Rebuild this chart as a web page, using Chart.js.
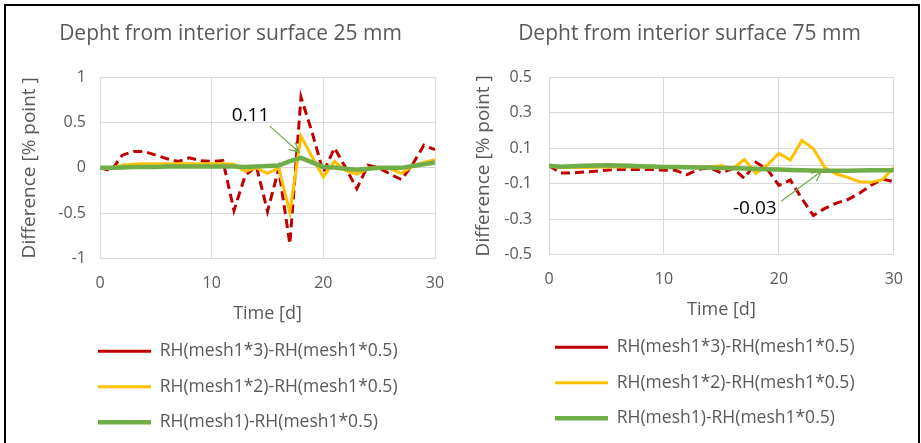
<!DOCTYPE html>
<html>
<head>
<meta charset="utf-8">
<script src="https://cdn.jsdelivr.net/npm/chart.js@4.4.1/dist/chart.umd.min.js"></script>
<style>
  html, body { margin: 0; padding: 0; background: #fff; overflow: hidden; }
  #frame { position: absolute; left: 4px; top: 4px; width: 912px; height: 460px; border: 2px solid #000; border-bottom: none; pointer-events: none; z-index: 2; }
  #left { position: absolute; left: 6px; top: 6px; }
  #right { position: absolute; left: 460px; top: 6px; }
</style>
</head>
<body>
<canvas id="left" width="454" height="435"></canvas>
<canvas id="right" width="458" height="431"></canvas>
<div id="frame"></div>
<script>
// Time [d]
const days = [0, 1, 2, 3, 4, 5, 6, 7, 8, 9, 10, 11, 12, 13, 14, 15, 16, 17, 18, 19, 20, 21, 22, 23, 24, 25, 26, 27, 28, 29, 30];
const xTicks = [0, 10, 20, 30];

const seriesNames = [
    'RH(mesh1*3)-RH(mesh1*0.5)',
    'RH(mesh1*2)-RH(mesh1*0.5)',
    'RH(mesh1)-RH(mesh1*0.5)',
];

// Depth 25 mm
const red25 = [0, -0.03, 0.14, 0.18, 0.18, 0.14, 0.1, 0.07, 0.11, 0.08, 0.07, 0.08, -0.47, -0.085, 0.02, -0.48, -0.01, -0.84, 0.78, 0.39, -0.05, 0.22, 0.0, -0.23, 0.03, 0.0, -0.07, -0.13, 0.04, 0.25, 0.2];
const yellow25 = [0, 0, 0.03, 0.04, 0.045, 0.045, 0.045, 0.045, 0.045, 0.045, 0.045, 0.045, 0.04, -0.04, 0.0, -0.06, 0.0, -0.49, 0.35, 0.12, -0.1, 0.07, -0.03, -0.07, -0.01, 0.0, -0.01, -0.06, 0.02, 0.06, 0.09];
const green25 = [0, 0, 0.005, 0.01, 0.01, 0.01, 0.015, 0.015, 0.015, 0.015, 0.015, 0.015, 0.015, 0.01, 0.015, 0.02, 0.025, 0.075, 0.11, 0.06, 0.01, 0.005, -0.01, -0.02, -0.01, 0, 0, 0, 0.02, 0.04, 0.06];
const yTicks25 = [-1, -0.5, 0, 0.5, 1];

// Depth 75 mm
const red75 = [0, -0.04, -0.04, -0.035, -0.03, -0.025, -0.02, -0.02, -0.02, -0.02, -0.025, -0.025, -0.05, -0.02, -0.01, -0.04, -0.015, -0.07, 0.02, -0.02, -0.11, -0.08, -0.185, -0.28, -0.24, -0.21, -0.19, -0.155, -0.11, -0.075, -0.09];
const yellow75 = [0, -0.01, -0.01, -0.01, -0.008, -0.006, -0.006, -0.006, -0.006, -0.006, -0.006, -0.006, -0.006, -0.006, -0.005, 0.0, -0.015, 0.037, -0.043, 0.005, 0.07, 0.033, 0.143, 0.096, -0.01, -0.046, -0.065, -0.09, -0.093, -0.078, -0.01];
const green75 = [0, -0.005, -0.002, 0, 0.002, 0.003, 0.002, 0, -0.002, -0.004, -0.006, -0.007, -0.008, -0.009, -0.01, -0.012, -0.013, -0.015, -0.017, -0.019, -0.021, -0.023, -0.025, -0.026, -0.027, -0.027, -0.027, -0.026, -0.025, -0.025, -0.025];
const yTicks75 = [-0.5, -0.3, -0.1, 0, 0.1, 0.3, 0.5]; // 0 only as axis line

Chart.defaults.font.family = "'Open Sans', sans-serif";
Chart.defaults.color = '#595959';

// callout text + arrow, positioned in data units
const calloutPlugin = {
    id: 'callout',
    afterDatasetsDraw(chart, args, opts) {
        const {ctx, scales: {x, y}} = chart;
        const px = v => x.getPixelForValue(v);
        const py = v => y.getPixelForValue(v);
        const x0 = px(opts.from[0]), y0 = py(opts.from[1]);
        const x1 = px(opts.to[0]), y1 = py(opts.to[1]);
        ctx.save();
        ctx.strokeStyle = '#70AD47';
        ctx.lineWidth = 1.2;
        ctx.beginPath();
        ctx.moveTo(x0, y0);
        ctx.lineTo(x1, y1);
        const a = Math.atan2(y1 - y0, x1 - x0);
        const head = 11;
        ctx.moveTo(x1 - head * Math.cos(a - 0.45), y1 - head * Math.sin(a - 0.45));
        ctx.lineTo(x1, y1);
        ctx.lineTo(x1 - head * Math.cos(a + 0.45), y1 - head * Math.sin(a + 0.45));
        ctx.stroke();
        ctx.fillStyle = '#000000';
        ctx.font = "19px 'Open Sans', sans-serif";
        ctx.textBaseline = 'middle';
        ctx.textAlign = 'left';
        ctx.fillText(opts.text, px(opts.at[0]), py(opts.at[1]));
        ctx.restore();
    }
};

// legend rows start under the plot; title nudged like the Excel original
const boxShift = {
    id: 'boxShift',
    afterLayout(chart, args, opts) {
        chart.legend.left = opts.legendX - chart.options.plugins.legend.labels.padding;
        chart.titleBlock.left += opts.titleDx;
        chart.titleBlock.right += opts.titleDx;
    }
};

function makeDatasets(red, yellow, green) {
    const pts = arr => days.map((d, i) => ({x: d, y: arr[i]}));
    return [{
        label: seriesNames[0],
        data: pts(red),
        borderColor: '#C00000',
        backgroundColor: '#C00000',
        borderWidth: 3,
        borderDash: [9, 5],
        order: 3
    }, {
        label: seriesNames[1],
        data: pts(yellow),
        borderColor: '#FFC000',
        backgroundColor: '#FFC000',
        borderWidth: 3,
        order: 2
    }, {
        label: seriesNames[2],
        data: pts(green),
        borderColor: '#70AD47',
        backgroundColor: '#70AD47',
        borderWidth: 4.5,
        order: 1
    }];
}

function makeOptions(title, yTicks, axisWidth, tickPad, padRight, shift, callout) {
    return {
        responsive: false,
        animation: false,
        elements: { point: { radius: 0 }, line: { tension: 0, fill: false } },
        layout: { padding: { left: 0, right: padRight, top: 0, bottom: 0 } },
        scales: {
            x: {
                type: 'linear',
                min: 0,
                max: 30,
                afterBuildTicks: s => { s.ticks = xTicks.map(v => ({value: v})); },
                afterFit: s => { s.height = 66; },
                grid: { color: '#D9D9D9', drawTicks: false },
                border: { display: false },
                ticks: { padding: 15, font: { size: 16 }, callback: v => String(v) },
                title: { display: true, text: 'Time [d]', font: { size: 18 }, padding: 0 }
            },
            y: {
                min: yTicks[0],
                max: yTicks[yTicks.length - 1],
                afterBuildTicks: s => { s.ticks = yTicks.map(v => ({value: v})); },
                afterFit: s => { s.width = axisWidth; },
                grid: { color: '#D9D9D9', drawTicks: false },
                border: { display: false },
                ticks: {
                    padding: tickPad,
                    font: { size: 16 },
                    callback: v => (v === 0 && yTicks.length === 7) ? '' : String(v)
                },
                title: { display: true, text: 'Difference [% point ]', font: { size: 19 }, padding: { top: 12, bottom: 0 } }
            }
        },
        plugins: {
            title: {
                display: true,
                text: title,
                font: { size: 21, weight: 'normal' },
                padding: { top: 15, bottom: 31 }
            },
            legend: {
                position: 'bottom',
                align: 'start',
                labels: {
                    usePointStyle: true,
                    pointStyle: 'line',
                    pointStyleWidth: 53,
                    font: { size: 17.5 },
                    padding: 18,
                    sort: (a, b) => a.datasetIndex - b.datasetIndex
                }
            },
            tooltip: { enabled: false },
            boxShift: shift,
            callout: callout
        }
    };
}

const chart25 = new Chart(document.getElementById('left'), {
    type: 'line',
    data: { datasets: makeDatasets(red25, yellow25, green25) },
    options: makeOptions('Depht from interior surface 25 mm', yTicks25, 94, 14, 25,
        { legendX: 92, titleDx: 10 },
        { text: '0.11', at: [11.8, 0.58], from: [15.2, 0.46], to: [17.85, 0.17] }),
    plugins: [calloutPlugin, boxShift]
});

const chart75 = new Chart(document.getElementById('right'), {
    type: 'line',
    data: { datasets: makeDatasets(red75, yellow75, green75) },
    options: makeOptions('Depht from interior surface 75 mm', yTicks75, 89, 17, 23,
        { legendX: 95, titleDx: 12 },
        { text: '-0.03', at: [16.0, -0.24], from: [20.2, -0.2], to: [23.7, -0.03] }),
    plugins: [calloutPlugin, boxShift]
});
</script>
</body>
</html>
